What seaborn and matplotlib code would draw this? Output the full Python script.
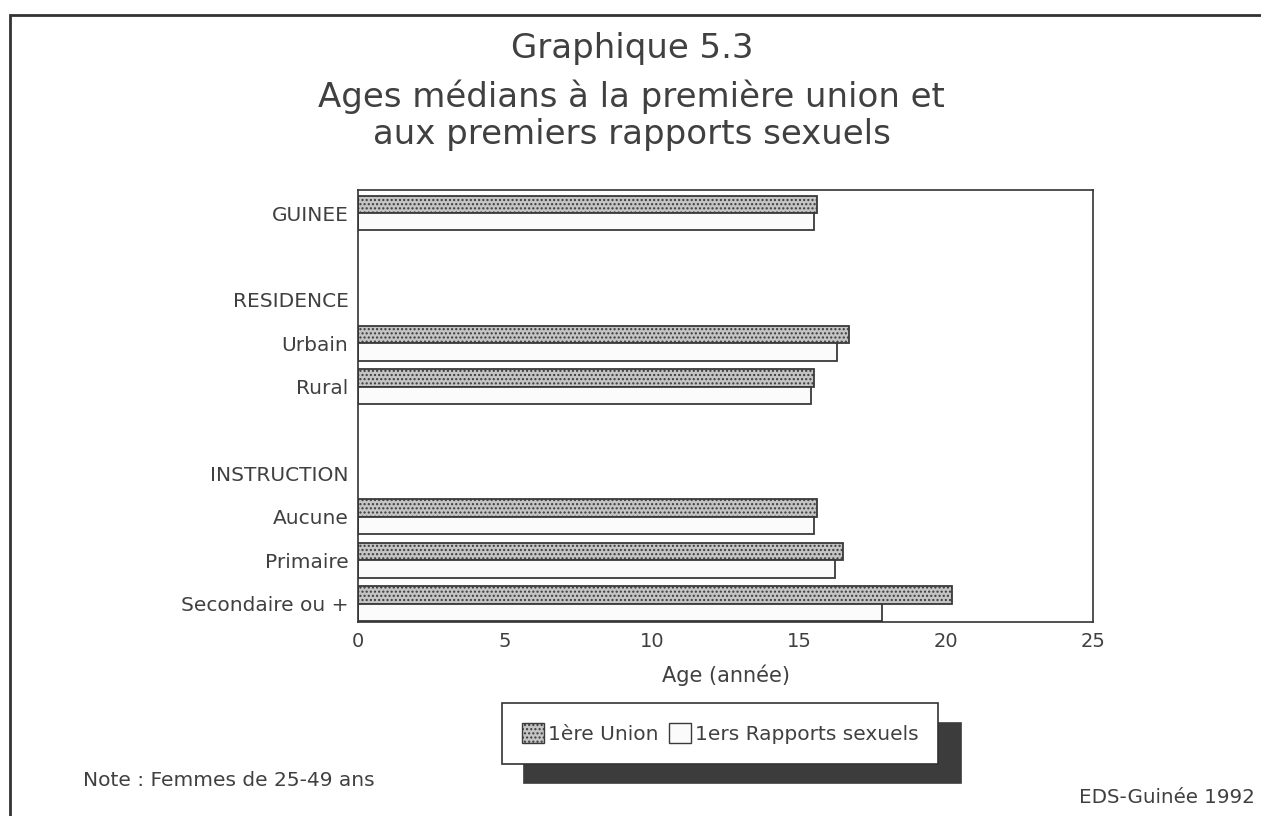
import matplotlib
matplotlib.use("Agg")
import matplotlib.pyplot as plt
import matplotlib.patches as mpatches
import seaborn as sns
import numpy as np
import pandas as pd

# ---- data ----
categories = ["GUINEE", "", "RESIDENCE", "Urbain", "Rural", " ",
              "INSTRUCTION", "Aucune", "Primaire", "Secondaire ou +"]
union = [15.6, np.nan, np.nan, 16.7, 15.5, np.nan, np.nan, 15.6, 16.5, 20.2]
rapports = [15.5, np.nan, np.nan, 16.3, 15.4, np.nan, np.nan, 15.5, 16.2, 17.8]
series_names = ["1ère Union", "1ers Rapports sexuels"]
xticks = [0, 5, 10, 15, 20, 25]

df = pd.DataFrame({
    "cat": categories * 2,
    "val": union + rapports,
    "serie": [series_names[0]] * len(categories) + [series_names[1]] * len(categories),
})

sns.set_theme(style="white")
plt.rcParams["font.family"] = ["DejaVu Sans"]
TXT = "#404040"

fig = plt.figure(figsize=(12.61, 8.16), dpi=100)
ax = fig.add_axes([0.284, 0.238, 0.583, 0.529])

sns.barplot(data=df, x="val", y="cat", hue="serie", order=categories,
            hue_order=series_names, orient="h", width=0.8, ax=ax,
            palette=["#bdbdbd", "#ffffff"], saturation=1, legend=False)

UNION_FACE = "#c4c4c4"
RAPP_FACE = "#fbfbfb"
EDGE = "#3a3a3a"
for ci, cont in enumerate(ax.containers):
    for p in cont:
        if ci == 0:
            p.set_hatch("....")
            p.set_facecolor(UNION_FACE)
        else:
            p.set_facecolor(RAPP_FACE)
        p.set_edgecolor(EDGE)
        p.set_linewidth(1.3)

ax.set_xlim(0, 25)
ax.set_xticks(xticks)
ax.set_xticklabels([str(t) for t in xticks], fontsize=14, color=TXT)
ax.set_ylim(9.42, -0.53)
ax.set_yticks(range(len(categories)))
ax.set_yticklabels(categories, fontsize=14.5, color=TXT)
ax.tick_params(axis="both", length=0, pad=7)
ax.set_xlabel("Age (année)", fontsize=15, color=TXT, labelpad=10)
ax.set_ylabel("")
for s in ax.spines.values():
    s.set_visible(True)
    s.set_color("#333333")
    s.set_linewidth(1.2)

# titles
fig.text(0.501, 0.941, "Graphique 5.3", ha="center", va="center", fontsize=24.5, color=TXT)
fig.text(0.501, 0.881, "Ages médians à la première union et", ha="center", va="center", fontsize=24.5, color=TXT)
fig.text(0.501, 0.835, "aux premiers rapports sexuels", ha="center", va="center", fontsize=24.5, color=TXT)

# notes
fig.text(0.066, 0.044, "Note : Femmes de 25-49 ans", ha="left", va="center", fontsize=14.5, color=TXT)
fig.text(0.995, 0.023, "EDS-Guinée 1992", ha="right", va="center", fontsize=14.3, color=TXT)

# legend
h1 = mpatches.Patch(facecolor=UNION_FACE, edgecolor=EDGE, hatch="....", label=series_names[0])
h2 = mpatches.Patch(facecolor=RAPP_FACE, edgecolor=EDGE, label=series_names[1])
leg = fig.legend(handles=[h1, h2], loc="center", bbox_to_anchor=(0.571, 0.101),
                 ncol=2, fontsize=14.5, frameon=True, fancybox=False,
                 shadow={"ox": 16, "oy": -14, "color": "#3c3c3c", "alpha": 1},
                 handlelength=1.1, handleheight=1.1, handletextpad=0.2,
                 columnspacing=0.5, borderpad=1.0, edgecolor="#333333")
leg.get_frame().set_linewidth(1.2)
for t in leg.get_texts():
    t.set_color(TXT)

# outer frame
frame = mpatches.Rectangle((0.008, -0.01), 1.2, 0.992, transform=fig.transFigure,
                           fill=False, edgecolor="#333333", linewidth=2.0)
fig.patches.append(frame)

fig.savefig("out.png", dpi=100)
